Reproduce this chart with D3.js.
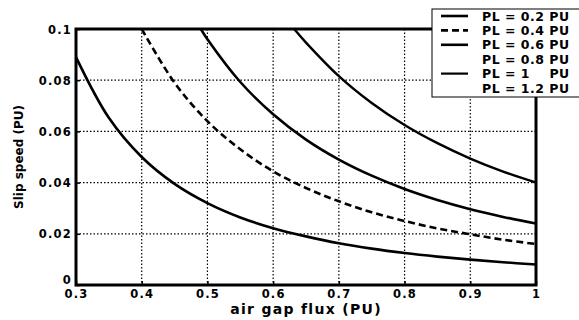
<!DOCTYPE html>
<html>
<head>
<meta charset="utf-8">
<script src="https://cdn.jsdelivr.net/npm/d3@7"></script>
<style>
  body { margin: 0; background: #fff; }
  text { font-family: "DejaVu Sans", "Liberation Sans", Arial, sans-serif; font-weight: bold; fill: #000; }
</style>
</head>
<body>
<div class="chart"></div>
<script>
var margin = { top: 29, right: 43, bottom: 35, left: 76 },
  width = 579 - margin.left - margin.right,
  height = 320 - margin.top - margin.bottom

// values
var flux02 = [0.3, 0.35, 0.4, 0.45, 0.5, 0.55, 0.6, 0.65, 0.7, 0.75, 0.8, 0.85, 0.9, 0.95, 1]
var slip02 = [0.089, 0.0653, 0.05, 0.0395, 0.032, 0.0264, 0.0222, 0.019, 0.0163, 0.0142, 0.0125, 0.0111, 0.0099, 0.0089, 0.008]

var flux04 = [0.4, 0.45, 0.5, 0.55, 0.6, 0.65, 0.7, 0.75, 0.8, 0.85, 0.9, 0.95, 1]
var slip04 = [0.1, 0.079, 0.064, 0.053, 0.0444, 0.0379, 0.0327, 0.0284, 0.025, 0.0221, 0.0198, 0.0177, 0.016]

var flux06 = [0.49, 0.5, 0.55, 0.6, 0.65, 0.7, 0.75, 0.8, 0.85, 0.9, 0.95, 1]
var slip06 = [0.1, 0.096, 0.0793, 0.0667, 0.0568, 0.049, 0.0427, 0.0375, 0.0332, 0.0296, 0.0266, 0.024]

var flux10 = [0.632, 0.65, 0.7, 0.75, 0.8, 0.85, 0.9, 0.95, 1]
var slip10 = [0.1, 0.0947, 0.0816, 0.0711, 0.0625, 0.0554, 0.0494, 0.0443, 0.04]

var legendLabels = ["PL = 0.2 PU", "PL = 0.4 PU", "PL = 0.6 PU", "PL = 0.8 PU", "PL = 1    PU", "PL = 1.2 PU"]
var xTicks = [0.3, 0.4, 0.5, 0.6, 0.7, 0.8, 0.9, 1]
var yTicks = [0, 0.02, 0.04, 0.06, 0.08, 0.1]

var series = [
  { x: flux02, y: slip02, dash: null, w: 2.6 },
  { x: flux04, y: slip04, dash: "7,4", w: 2.6 },
  { x: flux06, y: slip06, dash: null, w: 2.6 },
  { x: flux10, y: slip10, dash: null, w: 2.4 }
]

var svg = d3.select(".chart")
  .append("svg")
  .attr("width", width + margin.left + margin.right)
  .attr("height", height + margin.top + margin.bottom)
  .append("g")
  .attr("transform", "translate(" + margin.left + "," + margin.top + ")");

var x = d3.scaleLinear().domain([0.3, 1]).range([0, width]);
var y = d3.scaleLinear().domain([0, 0.1]).range([height, 0]);

// dotted grid
svg.append("g").selectAll("line")
  .data(xTicks.slice(1, -1))
  .enter().append("line")
  .attr("x1", function(d) { return x(d); })
  .attr("x2", function(d) { return x(d); })
  .attr("y1", 0).attr("y2", height)
  .attr("stroke", "#000").attr("stroke-width", 1.2).attr("stroke-dasharray", "1.5,2");

svg.append("g").selectAll("line")
  .data(yTicks.slice(1, -1))
  .enter().append("line")
  .attr("x1", 0).attr("x2", width)
  .attr("y1", function(d) { return y(d); })
  .attr("y2", function(d) { return y(d); })
  .attr("stroke", "#000").attr("stroke-width", 1.2).attr("stroke-dasharray", "1.5,2");

svg.append("clipPath").attr("id", "plot-clip")
  .append("rect").attr("width", width).attr("height", height);

var line = d3.line()
  .x(function(d) { return x(d[0]); })
  .y(function(d) { return y(d[1]); })
  .curve(d3.curveCatmullRom);

svg.append("g").attr("clip-path", "url(#plot-clip)")
  .selectAll("path")
  .data(series)
  .enter().append("path")
  .attr("d", function(s) { return line(d3.zip(s.x, s.y)); })
  .attr("fill", "none")
  .attr("stroke", "#000")
  .attr("stroke-width", function(s) { return s.w; })
  .attr("stroke-dasharray", function(s) { return s.dash; });

// axes
var xAxis = svg.append("g")
  .attr("transform", "translate(0," + height + ")")
  .call(d3.axisBottom(x).tickValues(xTicks).tickSize(-4).tickPadding(0)
    .tickFormat(function(d) { return d === 1 ? "1" : d3.format(".1f")(d); }));
var yAxis = svg.append("g")
  .call(d3.axisLeft(y).tickValues(yTicks).tickSize(-4).tickPadding(4)
    .tickFormat(function(d) { return d === 0 ? "0" : String(+d.toFixed(2)); }));

[xAxis, yAxis].forEach(function(a) {
  a.select(".domain").remove();
  a.selectAll(".tick line").attr("stroke", "#000").attr("stroke-width", 1.5);
  a.selectAll("text")
    .style("font-size", "11.5px")
    .style("font-weight", "bold")
    .style("letter-spacing", "1.2px");
});
xAxis.selectAll("text").attr("y", 13).attr("dy", 0);
yAxis.selectAll("text").attr("dy", "0.36em");
// the "0" sits just above the first x label, as in the picture
yAxis.selectAll(".tick").filter(function(d) { return d === 0; }).select("text").attr("dy", "-0.15em");

// frame
svg.append("rect")
  .attr("width", width).attr("height", height)
  .attr("fill", "none").attr("stroke", "#000").attr("stroke-width", 3);

// axis labels
svg.append("text")
  .attr("x", width / 2).attr("y", height + 29)
  .attr("text-anchor", "middle")
  .style("font-size", "14px")
  .style("letter-spacing", "1.3px")
  .text("air gap flux (PU)");

svg.append("text")
  .attr("transform", "translate(-53," + (height / 2) + ") rotate(-90)")
  .attr("text-anchor", "middle")
  .style("font-size", "12px")
  .text("Slip speed (PU)");

// legend
var legend = d3.select("svg").append("g").attr("transform", "translate(432,9)");
legend.append("rect")
  .attr("width", 150).attr("height", 88)
  .attr("fill", "#fff").attr("stroke", "#000").attr("stroke-width", 1);

var legendStyle = [
  { dash: null, w: 2.6 },
  { dash: "7,4", w: 2.6 },
  { dash: null, w: 2.6 },
  null,
  { dash: null, w: 2.2 },
  null
];

var rows = legend.selectAll(".lg")
  .data(legendLabels)
  .enter().append("g")
  .attr("class", "lg")
  .attr("transform", function(d, i) { return "translate(0," + (7 + i * 14.4) + ")"; });

rows.filter(function(d, i) { return legendStyle[i]; })
  .append("line")
  .attr("x1", 9).attr("x2", 36).attr("y1", 0).attr("y2", 0)
  .attr("stroke", "#000")
  .attr("stroke-width", function(d) { return legendStyle[legendLabels.indexOf(d)].w; })
  .attr("stroke-dasharray", function(d) { return legendStyle[legendLabels.indexOf(d)].dash; });

rows.append("text")
  .attr("x", 50).attr("y", 0).attr("dy", "0.36em")
  .style("font-size", "12.5px")
  .style("letter-spacing", "0.5px")
  .style("white-space", "pre")
  .text(function(d) { return d; });
</script>
</body>
</html>
